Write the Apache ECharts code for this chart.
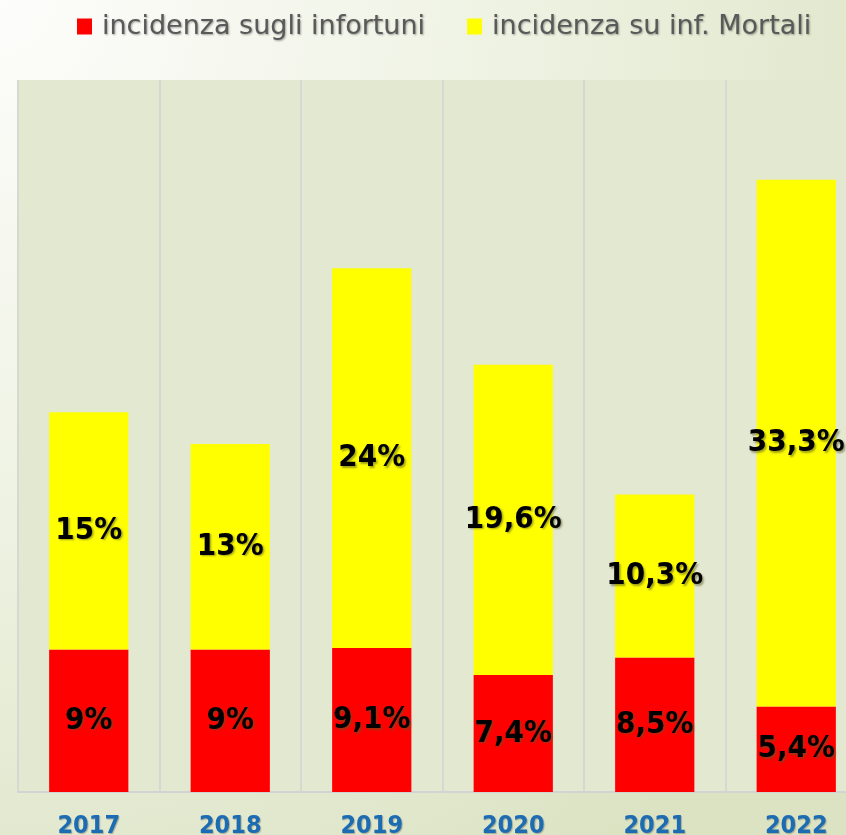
<!DOCTYPE html>
<html><head><meta charset="utf-8">
<script src="https://cdn.jsdelivr.net/npm/echarts@6/dist/echarts.min.js"></script>
<style>html,body{margin:0;padding:0;}#c{width:846px;height:835px;}</style>
</head><body><div id="c"></div>
<script>
const categories = ['2017','2018','2019','2020','2021','2022'];
const seriesNames = ['incidenza sugli infortuni','incidenza su inf. Mortali'];
const infortuni = [9, 9, 9.1, 7.4, 8.5, 5.4];
const mortali = [15, 13, 24, 19.6, 10.3, 33.3];

const fmt = p => String(p.value).replace('.', ',') + '%';
const lbl = {
  show: true, position: 'inside', formatter: fmt,
  color: '#000', fontWeight: 'bold', fontSize: 31,
  fontFamily: '"DejaVu Sans Condensed", sans-serif',
  textShadowColor: 'rgba(90,90,40,0.55)', textShadowBlur: 2,
  textShadowOffsetX: 1.5, textShadowOffsetY: 1.5
};
const chart = echarts.init(document.getElementById('c'), null, {renderer: 'canvas'});
chart.setOption({
  animation: false,
  backgroundColor: new echarts.graphic.RadialGradient(0, 0, 1.25, [
    {offset: 0, color: '#fdfdfb'},
    {offset: 0.5, color: '#eef2e2'},
    {offset: 1, color: '#dbe3c3'}
  ]),
  legend: {
    left: 72, top: 8, itemWidth: 15, itemHeight: 16, itemGap: 42,
    icon: 'rect',
    textStyle: {
      fontSize: 27, color: '#595959', fontFamily: '"DejaVu Sans", sans-serif',
      padding: [0, 0, 0, 5],
      textShadowColor: 'rgba(0,0,0,0.35)', textShadowBlur: 2,
      textShadowOffsetX: 1, textShadowOffsetY: 1.5
    },
    data: seriesNames
  },
  grid: {
    left: 18, top: 80, bottom: 43, right: -21,
    outerBoundsMode: 'none', containLabel: false,
    show: true, backgroundColor: '#e3e8d1', borderWidth: 0
  },
  xAxis: {
    type: 'category', data: categories,
    axisTick: {show: false},
    axisLine: {show: true, lineStyle: {color: '#d3d3d3', width: 2}},
    splitLine: {show: true, lineStyle: {color: '#d6d8d2', width: 2}},
    axisLabel: {
      margin: 22, fontSize: 25, fontWeight: 'bold', color: '#1b6cb3',
      fontFamily: '"DejaVu Sans Condensed", sans-serif',
      textShadowColor: 'rgba(0,0,0,0.25)', textShadowBlur: 1,
      textShadowOffsetX: 1, textShadowOffsetY: 1
    }
  },
  yAxis: {
    type: 'value', min: 0, max: 45, show: false,
    splitLine: {show: false}
  },
  series: [
    {name: seriesNames[0], type: 'bar', stack: 'a', data: infortuni,
     barWidth: '56%', itemStyle: {color: '#ff0000'}, label: lbl},
    {name: seriesNames[1], type: 'bar', stack: 'a', data: mortali,
     barWidth: '56%', itemStyle: {color: '#ffff00'}, label: lbl}
  ]
});
</script></body></html>
